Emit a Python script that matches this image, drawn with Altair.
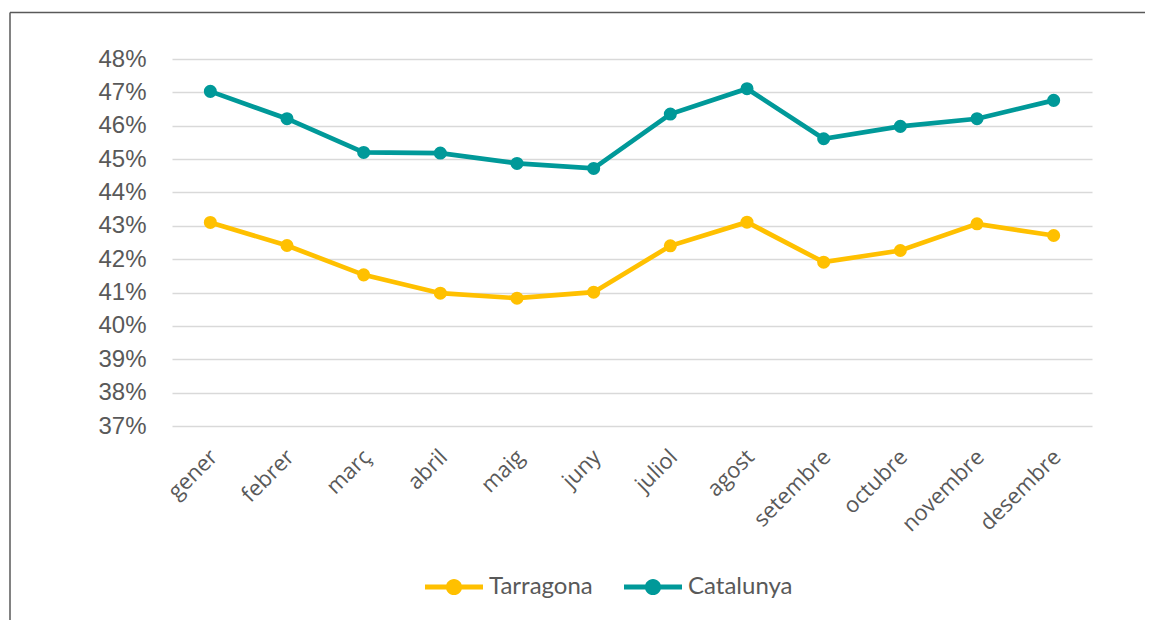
import altair as alt
import pandas as pd

months = ["gener", "febrer", "març", "abril", "maig", "juny",
          "juliol", "agost", "setembre", "octubre", "novembre", "desembre"]
series_names = ["Tarragona", "Catalunya"]
tarragona = [43.10, 42.41, 41.53, 40.98, 40.83, 41.01, 42.40, 43.11, 41.91, 42.26, 43.06, 42.71]
catalunya = [47.03, 46.21, 45.20, 45.18, 44.87, 44.72, 46.35, 47.11, 45.61, 45.98, 46.21, 46.76]
y_ticks = list(range(37, 49))
colors = ["#FFC000", "#009999"]

rows = []
for i, m in enumerate(months):
    rows.append({"mes": m, "ordre": i, "serie": "Tarragona", "linia": "Tarragona", "valor": tarragona[i]})
    rows.append({"mes": m, "ordre": i, "serie": "Catalunya", "linia": "Catalunya", "valor": catalunya[i]})
df = pd.DataFrame(rows)

x = alt.X("mes:N", sort=months,
          scale=alt.Scale(type="point", padding=0.5),
          axis=alt.Axis(title=None, labelAngle=-45, labelAlign="right", labelBaseline="middle",
                        labelFont="Open Sans", labelFontSize=22, labelColor="#595959",
                        labelPadding=27, labelOffset=3, ticks=False, domain=False, grid=False))
y = alt.Y("valor:Q",
          scale=alt.Scale(domain=[37, 48], nice=False, zero=False),
          axis=alt.Axis(title=None, values=y_ticks, labelExpr="datum.value + '%'",
                        labelFont="Liberation Sans", labelFontSize=24, labelColor="#595959",
                        labelPadding=26, ticks=False, domain=False,
                        gridColor="#d9d9d9", gridWidth=1.5))

lines = alt.Chart(df).mark_line(strokeWidth=4.7).encode(
    x=x, y=y,
    stroke=alt.Stroke("linia:N", scale=alt.Scale(domain=series_names, range=colors), legend=None),
    order=alt.Order("ordre:Q"),
)

legend_symbol = ("M-1,-0.086L1,-0.086L1,0.086L-1,0.086Z "
                 "M0.28,0A0.28,0.28 0 1,1 -0.28,0A0.28,0.28 0 1,1 0.28,0Z")

points = alt.Chart(df).mark_point(filled=True, size=170, opacity=1).encode(
    x=x, y=y,
    color=alt.Color("serie:N", scale=alt.Scale(domain=series_names, range=colors),
                    legend=alt.Legend(title=None, orient="none", legendX=253, legendY=499,
                                      direction="horizontal", symbolType=legend_symbol,
                                      symbolSize=3364, symbolStrokeWidth=0, symbolOpacity=1,
                                      labelFont="Lato", labelFontSize=24, labelColor="#595959",
                                      labelOffset=6, columnPadding=31)),
)

frame_df = pd.DataFrame({"k": [0]})
frame_top = alt.Chart(frame_df).mark_rule(color="#595959", strokeWidth=1.5).encode(
    x=alt.value(-162), x2=alt.value(1000), y=alt.value(-46.5))
frame_left = alt.Chart(frame_df).mark_rule(color="#595959", strokeWidth=1.5).encode(
    x=alt.value(-162), y=alt.value(-46.5), y2=alt.value(600))

chart = alt.layer(frame_top, frame_left, lines, points).properties(
    width=920, height=367,
    padding={"left": 164, "top": 51, "right": 53, "bottom": 194},
    autosize=alt.AutoSizeParams(type="none"),
    background="white",
).resolve_scale(color="independent", stroke="independent").configure_view(stroke=None)

chart.save("out.html", embed_options={"renderer": "svg", "actions": False})
